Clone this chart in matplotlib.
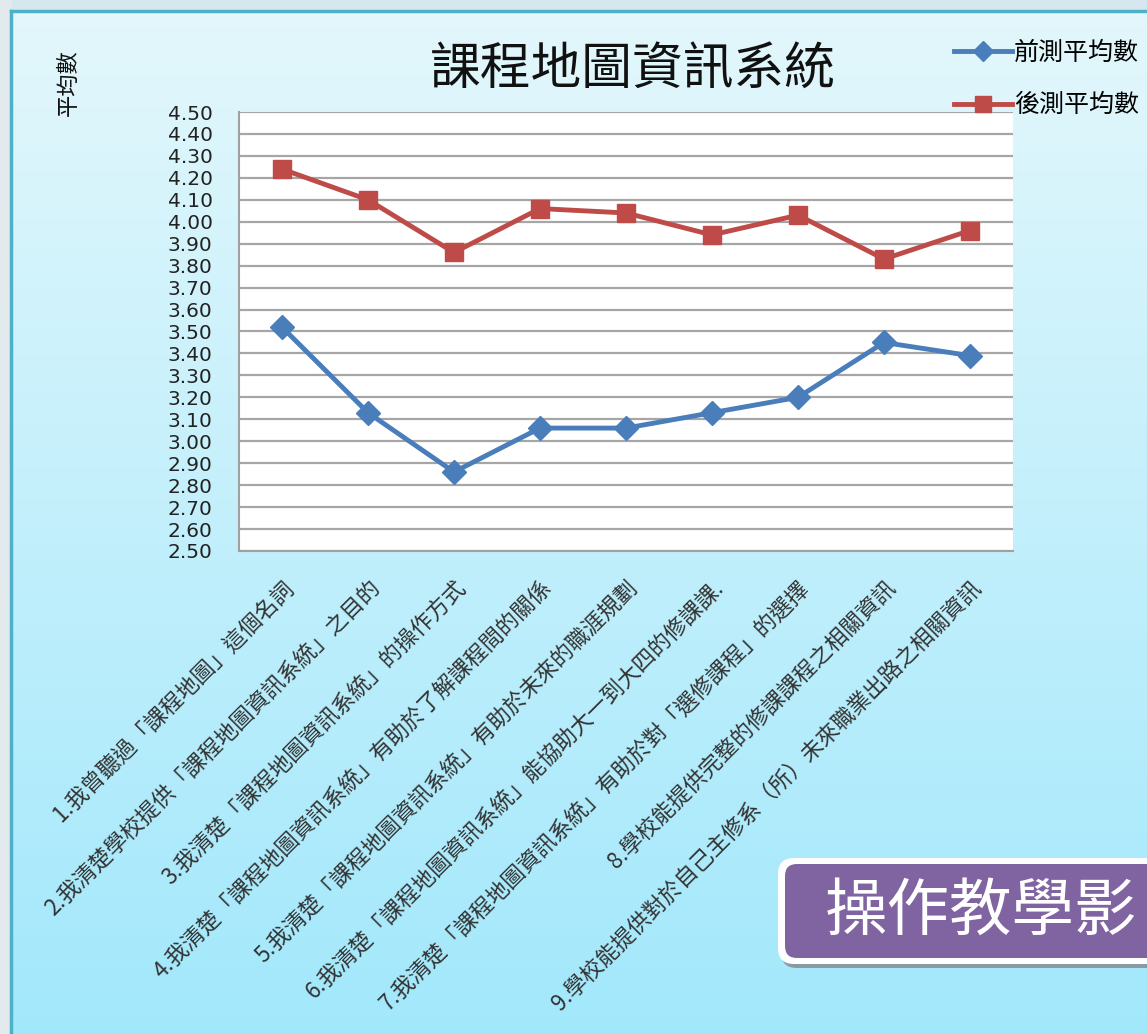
import numpy as np
import matplotlib
matplotlib.use("Agg")
import matplotlib.pyplot as plt
from matplotlib.patches import FancyBboxPatch, Rectangle

plt.rcParams['font.family'] = ['Noto Sans CJK TC', 'DejaVu Sans']

title = "課程地圖資訊系統"
y_label = "平均數"
series_names = ["前測平均數", "後測平均數"]
categories = [
    "1.我曾聽過「課程地圖」這個名詞",
    "2.我清楚學校提供「課程地圖資訊系統」之目的",
    "3.我清楚「課程地圖資訊系統」的操作方式",
    "4.我清楚「課程地圖資訊系統」有助於了解課程間的關係",
    "5.我清楚「課程地圖資訊系統」有助於未來的職涯規劃",
    "6.我清楚「課程地圖資訊系統」能協助大一到大四的修課課.",
    "7.我清楚「課程地圖資訊系統」有助於對「選修課程」的選擇",
    "8.學校能提供完整的修課課程之相關資訊",
    "9.學校能提供對於自己主修系（所）未來職業出路之相關資訊",
]
pre_mean = [3.52, 3.13, 2.86, 3.06, 3.06, 3.13, 3.20, 3.45, 3.39]
post_mean = [4.24, 4.10, 3.86, 4.06, 4.04, 3.94, 4.03, 3.83, 3.96]
y_ticks = [2.50, 2.60, 2.70, 2.80, 2.90, 3.00, 3.10, 3.20, 3.30, 3.40, 3.50,
           3.60, 3.70, 3.80, 3.90, 4.00, 4.10, 4.20, 4.30, 4.40, 4.50]
box_text = "操作教學影"

W, H = 1147, 1034
fig = plt.figure(figsize=(W / 100, H / 100), dpi=100)
fig.patch.set_facecolor('#d6e7ef')

# background decoration axes (pixel coords)
bg = fig.add_axes([0, 0, 1, 1], zorder=0)
bg.set_xlim(0, W)
bg.set_ylim(H, 0)
bg.axis('off')
grad = np.linspace(0, 1, 256)[:, None]
top_c = np.array([0xe3, 0xf7, 0xfc]) / 255
bot_c = np.array([0xa2, 0xe8, 0xfb]) / 255
img = top_c[None, None, :] * (1 - grad[:, :, None]) + bot_c[None, None, :] * grad[:, :, None]
img = np.repeat(img, 2, axis=1)
bg.imshow(img, extent=[11, W, H, 11], aspect='auto', zorder=0)
bg.add_patch(Rectangle((0, 0), 11, H, color='#e2eaee', zorder=0.5))
bg.plot([11, W], [11, 11], color='#4fb0c9', lw=2.5, zorder=1)
bg.plot([11, 11], [11, H], color='#4fb0c9', lw=2.5, zorder=1)

# purple box
bg.add_patch(FancyBboxPatch((781, 862), 420, 106, boxstyle="round,pad=0,rounding_size=16",
                            fc='#8a9aa0', ec='none', zorder=2))
bg.add_patch(FancyBboxPatch((778, 858), 420, 106, boxstyle="round,pad=0,rounding_size=16",
                            fc='white', ec='none', zorder=3))
bg.add_patch(FancyBboxPatch((785, 864), 420, 94, boxstyle="round,pad=0,rounding_size=12",
                            fc='#8064a2', ec='none', zorder=4))
bg.text(825, 912, box_text, color='white', fontsize=45, va='center', ha='left',
        family=['Noto Sans CJK TC'], fontweight='light', zorder=5)

# main chart axes
ax = fig.add_axes([239 / W, 1 - 551 / H, 774 / W, 439 / H], zorder=2)
ax.set_facecolor('white')
x = np.arange(len(categories))
l1, = ax.plot(x, pre_mean, color='#4a7ebb', lw=3.5, marker='D', ms=12,
              mec='#4a7ebb', mfc='#4a7ebb', label=series_names[0])
l2, = ax.plot(x, post_mean, color='#be4b48', lw=3.5, marker='s', ms=13,
              mec='#be4b48', mfc='#be4b48', label=series_names[1])
ax.set_xlim(-0.5, len(categories) - 0.5)
ax.set_ylim(2.50, 4.50)
ax.set_yticks(y_ticks)
ax.set_yticklabels([f"{v:.2f}" for v in y_ticks], family=['DejaVu Sans'], fontsize=14.5,
                   color='#222222')
ax.set_xticks(x)
ax.set_xticklabels(categories, rotation=45, ha='right', va='top', rotation_mode='anchor',
                   fontsize=16, color='#333333')
ax.tick_params(axis='y', length=0, pad=19)
ax.tick_params(axis='x', length=0, pad=18)
ax.yaxis.grid(True, color='#a6a6a6', lw=1.6)
ax.set_axisbelow(True)
for s in ['top', 'right']:
    ax.spines[s].set_visible(False)
for s in ['left', 'bottom']:
    ax.spines[s].set_color('#a0a0a0')
    ax.spines[s].set_linewidth(1.5)

fig.text(633 / W, 1 - 70 / H, title, fontsize=36.5, ha='center', va='center',
         color='#111111')
fig.text(68 / W, 1 - 83 / H, y_label, fontsize=16, rotation=90, ha='center', va='center',
         color='#111111', fontweight='medium')

fig.legend(handles=[l1, l2], loc='upper left', bbox_to_anchor=(944 / W, 1 - 30 / H),
           frameon=False, fontsize=18, handlelength=2.3, handletextpad=0.1,
           labelspacing=1.05, borderaxespad=0, markerscale=0.85)

fig.savefig('out.png', dpi=100, facecolor=fig.get_facecolor())
